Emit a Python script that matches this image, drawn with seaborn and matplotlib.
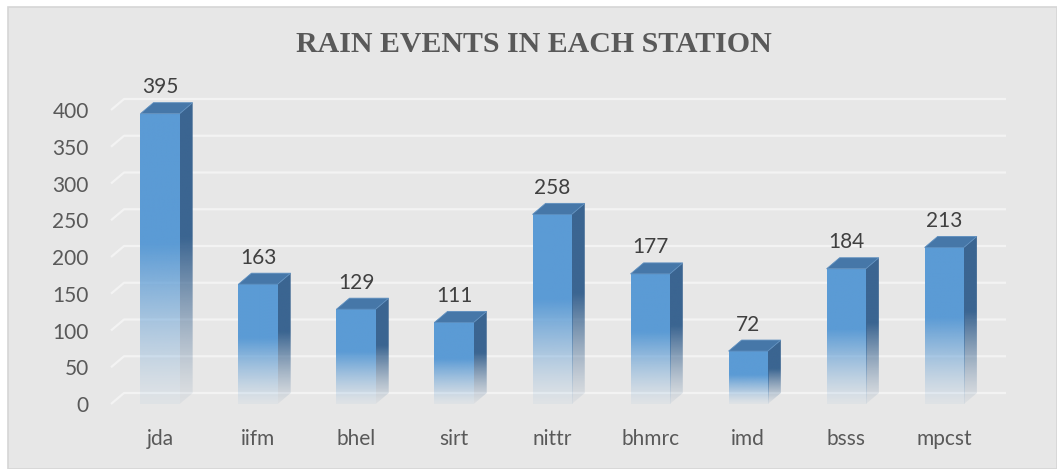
import numpy as np
import matplotlib
matplotlib.use("Agg")
import matplotlib.pyplot as plt
from matplotlib.patches import Polygon, Rectangle
import seaborn as sns

# data
stations = ['jda', 'iifm', 'bhel', 'sirt', 'nittr', 'bhmrc', 'imd', 'bsss', 'mpcst']
events = [395, 163, 129, 111, 258, 177, 72, 184, 213]
yticks = [0, 50, 100, 150, 200, 250, 300, 350, 400]

sns.set_theme(style='white')
plt.rcParams['font.family'] = ['Lato', 'DejaVu Sans']

W, H = 1057, 469
fig = plt.figure(figsize=(W / 100, H / 100), dpi=100)
fig.patch.set_facecolor('white')
fig.patches.append(Rectangle((8 / W, 0), 1 - 8 / W, 1 - 7 / H, transform=fig.transFigure,
                             facecolor='#e7e7e7', edgecolor='#d6d6d6', lw=1.2, zorder=-5))

ax = fig.add_axes([111 / W, (H - 404) / H, 895 / W, 305 / H])
ax.set_facecolor('none')

front = '#5b9bd5'
side = '#3b6591'
top = '#4677a8'
bw = 0.4
dx, dy = 0.133, 15.0
xmin, xmax = -0.5, 8.63
ymin, ymax = 0, 415

sns.barplot(x=stations, y=events, width=bw, color=front, ax=ax, zorder=3)


def fade(rgb_hex, n=200):
    c = matplotlib.colors.to_rgb(rgb_hex)
    t = np.linspace(0, 1, n)
    a = np.clip(0.06 + 0.94 * (t / 0.55) ** 1.3, 0, 1)
    arr = np.zeros((n, 1, 4))
    arr[:, 0, :3] = c
    arr[:, 0, 3] = a
    return arr


bars = list(ax.patches)
for p in bars:
    x0, w, h = p.get_x(), p.get_width(), p.get_height()
    p.set_facecolor('none')
    p.set_edgecolor('none')
    # front face gradient
    im = ax.imshow(fade(front), extent=(x0, x0 + w, 0, h), origin='lower',
                   aspect='auto', zorder=3, interpolation='bilinear')
    im.set_clip_path(p)
    # side face
    sp = Polygon([(x0 + w, 0), (x0 + w + dx, dy), (x0 + w + dx, h + dy), (x0 + w, h)],
                 closed=True, facecolor='none', edgecolor='none', zorder=3)
    ax.add_patch(sp)
    im2 = ax.imshow(fade(side), extent=(x0 + w, x0 + w + dx, 0, h + dy), origin='lower',
                    aspect='auto', zorder=3, interpolation='bilinear')
    im2.set_clip_path(sp)
    # top face
    ax.add_patch(Polygon([(x0, h), (x0 + dx, h + dy), (x0 + w + dx, h + dy), (x0 + w, h)],
                         closed=True, facecolor=top, edgecolor='#5e8fbf', lw=0.6, zorder=4))
    ax.annotate(f'{int(round(h))}', (x0 + w / 2, h + dy), xytext=(0, 4),
                textcoords='offset points', ha='center', va='bottom',
                fontsize=15, color='#404040')

# back wall gridlines with the 3D floor corner
for v in yticks:
    ax.plot([xmin, xmin + dx, xmax], [v, v + dy, v + dy], color='#f3f3f3', lw=1.6,
            zorder=1, clip_on=False, solid_capstyle='butt')

ax.set_xlim(xmin, xmax)
ax.set_ylim(ymin, ymax)
ax.set_yticks(yticks)
ax.set_yticklabels([str(v) for v in yticks])
ax.tick_params(axis='y', length=0, pad=16, labelsize=15, labelcolor='#595959')
ax.tick_params(axis='x', length=0, pad=18, labelsize=15, labelcolor='#595959')
ax.set_xlabel('')
ax.set_ylabel('')
ax.grid(False)
for s in ax.spines.values():
    s.set_visible(False)

fig.text(534 / W, 1 - 45 / H, 'RAIN EVENTS IN EACH STATION', ha='center', va='center',
         fontsize=21.5, fontweight='bold', color='#595959', family='Liberation Serif')

fig.savefig('out.png', dpi=100)
